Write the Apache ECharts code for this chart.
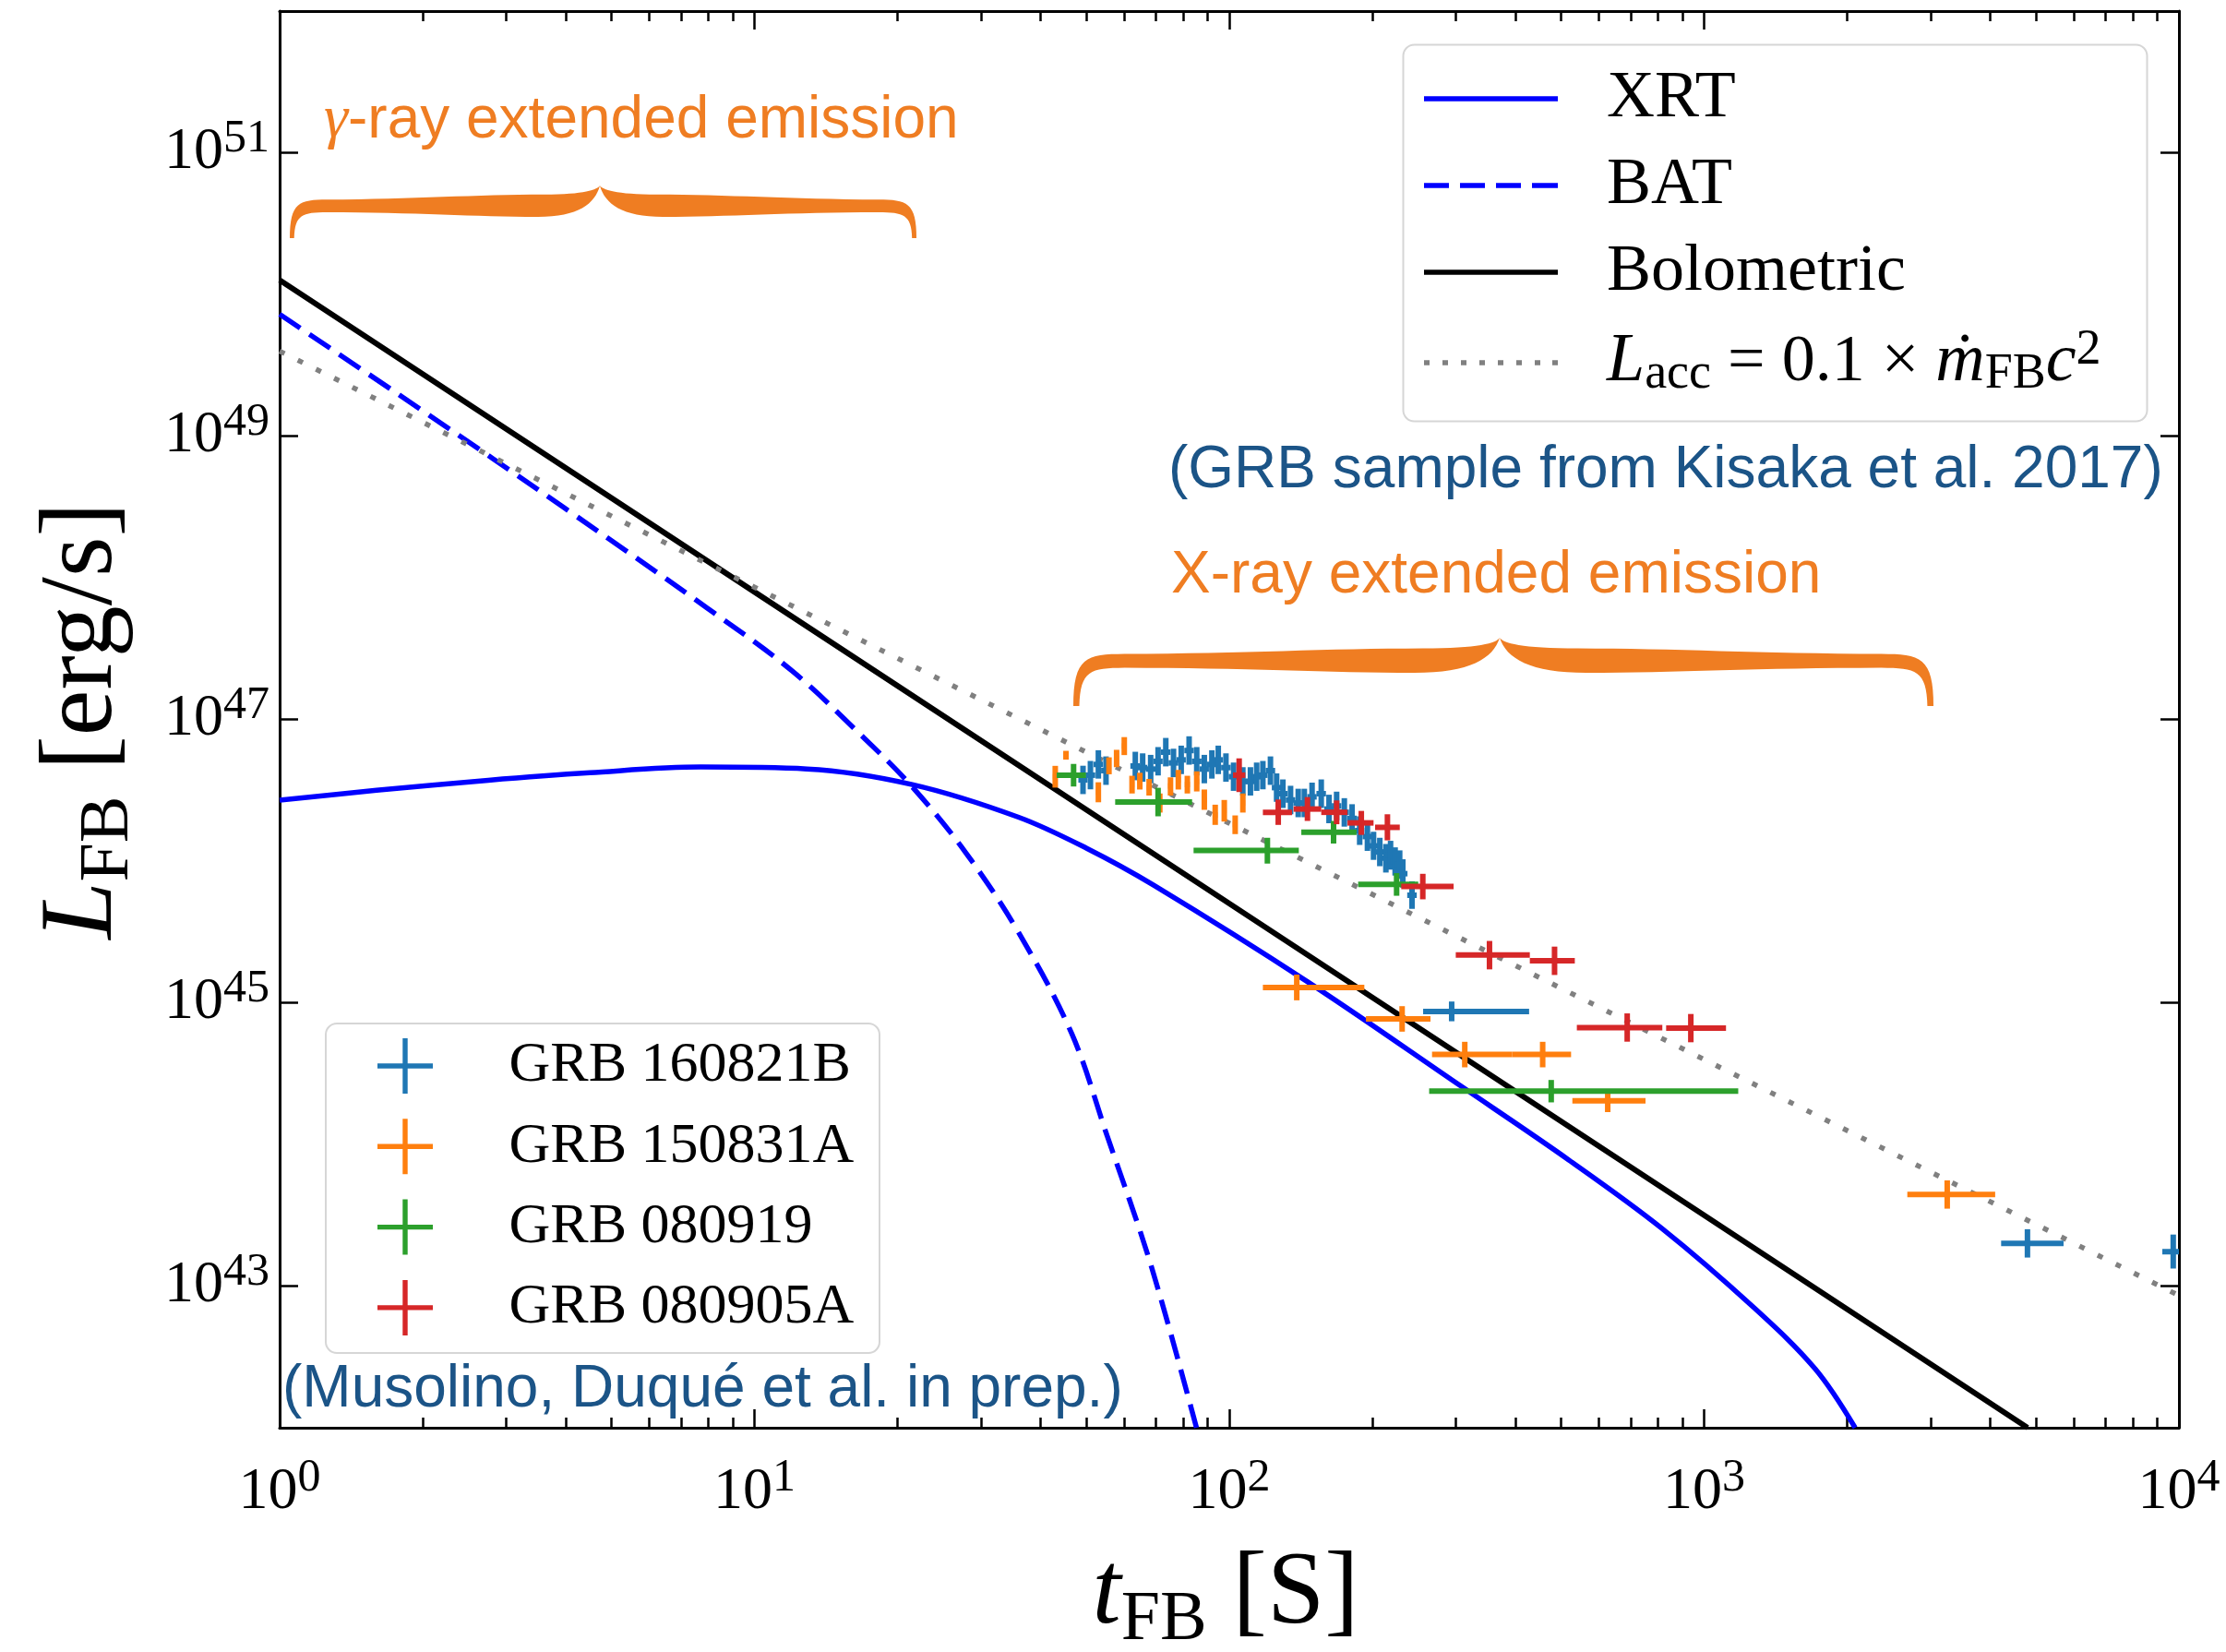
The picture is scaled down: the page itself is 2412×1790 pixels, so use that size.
<!DOCTYPE html>
<html>
<head>
<meta charset="utf-8">
<script src="https://cdn.jsdelivr.net/npm/echarts@6/dist/echarts.min.js"></script>
<style>html,body{margin:0;padding:0;background:#fff}#c{width:2412px;height:1790px}</style>
</head>
<body>
<div id="c"></div>
<script>
// ---------------- DATA (t in s, L in erg/s) ----------------
const xMajorTicks = [1, 10, 100, 1000, 10000];
const xMinorTicks = [2,3,4,5,6,7,8,9,20,30,40,50,60,70,80,90,200,300,400,500,600,700,800,900,2000,3000,4000,5000,6000,7000,8000,9000];
const yMajorTicks = [1e43, 1e45, 1e47, 1e49, 1e51];

// model curves [t, L]
const xrtCurve = [[1,2.69e46],[1.6,3.16e46],[2.75,3.72e46],[4.5,4.20e46],[7.71,4.61e46],[12.9,4.47e46],[21.5,3.47e46],[36.0,2.04e46],[50.1,1.23e46],[69.3,6.76e45],[146,1.41e45],[308,2.57e44],[519,7.76e43],[813,2.57e43],[1271,7.08e42],[1714,2.60e42],[2080,1.0e42]];
const batCurve = [[1,7.24e49],[2.0,1.51e49],[3.99,3.09e48],[7.92,6.17e47],[12.0,2.20e47],[17.0,7.41e46],[21.5,3.34e46],[27.9,1.14e46],[36.0,3.13e45],[46.6,6.03e44],[55.3,1.15e44],[68.2,1.45e43],[85.3,1.0e42]];
const bolCurve = [[1,1.26e50],[10,7.94e47],[100,5.01e45],[1000,3.16e43],[4800,1.0e42]];
const laccCurve = [[1,3.98e49],[10,8.58e47],[100,1.85e46],[1000,3.98e44],[10000,8.58e42]];

// error-bar data rows: [t, tLow, tHigh, L, LLow, LHigh]
const grb160821B = [
 [49.2,48.1,50.3,3.74e46,2.97e46,4.71e46],[51.0,49.8,52.2,4.04e46,3.21e46,5.09e46],[53.0,51.8,54.2,4.81e46,3.82e46,6.06e46],
 [55.0,53.7,56.3,4.35e46,3.45e46,5.48e46],[63.4,61.9,64.9,4.69e46,3.72e46,5.91e46],[65.7,64.2,67.2,4.57e46,3.63e46,5.76e46],
 [68.3,66.7,69.9,4.46e46,3.54e46,5.62e46],[70.8,69.2,72.4,5.06e46,4.02e46,6.38e46],[73.5,71.8,75.2,5.87e46,4.66e46,7.40e46],
 [76.3,74.5,78.1,4.93e46,3.91e46,6.21e46],[79.2,77.4,81.0,5.18e46,4.11e46,6.53e46],[82.3,80.4,84.2,6.03e46,4.79e46,7.60e46],
 [85.4,83.4,87.4,5.06e46,4.02e46,6.38e46],[88.6,86.6,90.6,4.46e46,3.54e46,5.62e46],[91.9,89.8,94.0,4.81e46,3.82e46,6.06e46],
 [94.8,92.6,97.0,5.18e46,4.11e46,6.53e46],[98.4,96.1,100.7,4.57e46,3.63e46,5.76e46],[102.1,99.7,104.5,3.94e46,3.13e46,4.96e46],
 [106.8,104.3,109.3,3.65e46,2.90e46,4.60e46],[110.8,108.3,113.3,3.65e46,2.90e46,4.60e46],[114.2,111.6,116.8,3.94e46,3.13e46,4.96e46],
 [117.7,115.0,120.4,4.04e46,3.21e46,5.09e46],[122.1,119.3,124.9,4.35e46,3.45e46,5.48e46],[125.8,122.9,128.7,3.30e46,2.62e46,4.16e46],
 [129.7,126.7,132.7,2.99e46,2.37e46,3.77e46],[134.6,131.5,137.7,2.70e46,2.14e46,3.40e46],[139.7,136.5,142.9,2.57e46,2.04e46,3.24e46],
 [143.9,140.6,147.2,2.57e46,2.04e46,3.24e46],[149.4,146.0,152.8,2.84e46,2.25e46,3.58e46],[156.2,152.6,159.8,2.99e46,2.37e46,3.77e46],
 [162.2,158.5,165.9,2.33e46,1.85e46,2.94e46],[168.3,164.4,172.2,2.45e46,1.94e46,3.09e46],[174.7,170.7,178.7,2.21e46,1.75e46,2.78e46],
 [181.4,177.2,185.6,2.00e46,1.59e46,2.52e46],[188.2,183.9,192.5,1.64e46,1.30e46,2.07e46],[195.4,190.9,199.9,1.49e46,1.18e46,1.88e46],
 [201.3,196.7,205.9,1.28e46,1.02e46,1.61e46],[207.5,202.7,212.3,1.16e46,0.92e46,1.46e46],[213.7,208.8,218.6,1.05e46,0.83e46,1.32e46],
 [218.6,213.6,223.6,1.10e46,0.87e46,1.39e46],[223.5,218.4,228.6,9.95e45,7.9e45,1.25e46],[228.5,223.2,233.8,9.46e45,7.5e45,1.19e46],
 [232.0,226.7,237.3,8.15e45,6.5e45,1.03e46],[242.6,237.0,248.2,5.74e45,4.6e45,7.2e45],
 [294,256,428,8.67e44,7.4e44,1.02e45],[4797,4222,5715,2.0e43,1.59e43,2.52e43],[9727,9226,11220,1.75e43,1.33e43,2.31e43]
];
const grb150831A = [
 [45.3,44.8,45.8,5.58e46,5.2e46,6.0e46],[43.0,42.5,43.5,3.94e46,3.3e46,4.7e46],[53.0,52.4,53.6,3.06e46,2.6e46,3.6e46],
 [55.8,55.2,56.4,4.69e46,4.1e46,5.4e46],[57.9,57.3,58.5,5.31e46,4.6e46,6.1e46],[60.1,59.4,60.8,6.49e46,5.6e46,7.5e46],
 [62.4,61.7,63.1,3.47e46,3.0e46,4.0e46],[64.8,64.1,65.5,3.65e46,3.2e46,4.2e46],[67.8,67.0,68.6,3.30e46,2.9e46,3.8e46],
 [71.4,70.6,72.2,2.57e46,2.2e46,3.0e46],[75.2,74.3,76.1,3.39e46,2.9e46,3.9e46],[78.1,77.2,79.0,3.74e46,3.2e46,4.4e46],
 [81.6,80.6,82.6,3.47e46,3.0e46,4.0e46],[85.4,84.4,86.4,3.65e46,3.1e46,4.3e46],[88.6,87.6,89.6,2.70e46,2.3e46,3.2e46],
 [93.4,92.3,94.5,2.11e46,1.8e46,2.5e46],[97.6,96.5,98.7,2.27e46,1.9e46,2.7e46],[102.9,101.7,104.1,1.81e46,1.55e46,2.1e46],
 [106.8,105.6,108.0,2.57e46,2.2e46,3.0e46],
 [138.7,117.7,192.5,1.28e45,1.04e45,1.58e45],[231.2,194.0,265.3,7.69e44,6.25e44,9.46e44],[313.3,267.3,393.9,4.31e44,3.50e44,5.30e44],
 [457.1,393.9,524.6,4.31e44,3.50e44,5.30e44],[626.6,527.9,752.7,2.03e44,1.69e44,2.44e44],[3251,2679,4102,4.43e43,3.52e43,5.57e43]
];
const grb080919 = [
 [47.0,43.3,49.9,4.04e46,3.36e46,4.85e46],[70.8,57.5,83.5,2.61e46,2.07e46,3.29e46],[120.3,84.1,140.1,1.19e46,9.6e45,1.46e46],
 [165.8,141.8,185.4,1.60e46,1.33e46,1.92e46],[225.1,186.8,250.0,6.84e45,5.69e45,8.22e45],[476.4,263.6,1180,2.38e44,1.98e44,2.85e44]
];
const grb080905A = [
 [104.9,101.8,108.1,4.04e46,3.07e46,5.31e46],[126.8,117.7,135.6,2.21e46,1.80e46,2.72e46],[146.1,136.6,156.2,2.33e46,1.92e46,2.83e46],
 [168.3,156.2,177.4,2.21e46,1.82e46,2.68e46],[189.7,177.4,201.3,1.86e46,1.53e46,2.26e46],[215.3,202.8,228.6,1.73e46,1.40e46,2.14e46],
 [255.6,230.2,296.8,6.61e45,5.37e45,8.13e45],[353.2,299.9,429.5,2.17e45,1.72e45,2.73e45],[484.2,429.5,534.2,1.98e45,1.57e45,2.49e45],
 [688.7,539.5,816.6,6.68e44,5.31e44,8.41e44],[937.6,831.8,1112,6.62e44,5.26e44,8.33e44]
];

// ---------------- CHART ----------------
const SERIF = 'Liberation Serif';
const SANS = 'Liberation Sans';
const ORANGE = '#ef7d22';
const NAVY = '#1b5487';
const C_BLUE = '#1f77b4', C_ORANGE = '#ff7f0e', C_GREEN = '#2ca02c', C_RED = '#d62728';

const chart = echarts.init(document.getElementById('c'), null, {renderer: 'canvas', width: 2412, height: 1790});

const supFmt = v => '{b|10}{s|' + Math.round(Math.log10(v)) + '}';
const tickRich = {
  b: {fontFamily: SERIF, fontSize: 64, lineHeight: 80, color: '#000'},
  s: {fontFamily: SERIF, fontSize: 50, lineHeight: 40, verticalAlign: 'top', color: '#000'}
};
const axisLineStyle = {color: '#000', width: 3};
const tickStyle = {color: '#000', width: 2.5};

function mkX(pos, ticks, len, line, labels) {
  return {
    type: 'log', logBase: 10, min: 1, max: 10000, position: pos, gridIndex: 0,
    axisLine: {show: line, onZero: false, lineStyle: axisLineStyle},
    axisTick: {show: true, inside: true, length: len, lineStyle: tickStyle, customValues: ticks},
    axisLabel: labels ? {show: true, customValues: ticks, margin: 30, formatter: supFmt, rich: tickRich} : {show: false},
    splitLine: {show: false}, minorTick: {show: false}, minorSplitLine: {show: false}
  };
}
function mkY(pos, labels) {
  return {
    type: 'log', logBase: 10, min: 1e42, max: 1e52, position: pos, gridIndex: 0,
    axisLine: {show: true, onZero: false, lineStyle: axisLineStyle},
    axisTick: {show: true, inside: true, length: 20, lineStyle: tickStyle, customValues: yMajorTicks},
    axisLabel: labels ? {show: true, customValues: yMajorTicks, margin: 11, formatter: supFmt, rich: tickRich} : {show: false},
    splitLine: {show: false}, minorTick: {show: false}, minorSplitLine: {show: false}
  };
}

function renderErr(params, api) {
  const t = api.value(0), t0 = api.value(1), t1 = api.value(2);
  const L = api.value(3), L0 = api.value(4), L1 = api.value(5);
  const a = api.coord([t0, L]), b = api.coord([t1, L]);
  const c = api.coord([t, L0]), d = api.coord([t, L1]);
  const col = api.visual('color');
  return {type: 'group', children: [
    {type: 'line', shape: {x1: a[0], y1: a[1], x2: b[0], y2: b[1]}, style: {stroke: col, lineWidth: 6}},
    {type: 'line', shape: {x1: c[0], y1: c[1], x2: d[0], y2: d[1]}, style: {stroke: col, lineWidth: 6}}
  ]};
}
function errSeries(name, color, data) {
  return {name, type: 'custom', xAxisIndex: 0, yAxisIndex: 0, renderItem: renderErr, data,
    encode: {x: [0, 1, 2], y: [3, 4, 5]}, itemStyle: {color}, clip: true, silent: true, z: 3};
}
function lineSeries(name, color, width, type, data, smooth) {
  return {name, type: 'line', xAxisIndex: 0, yAxisIndex: 0, data, symbol: 'none', showSymbol: false,
    smooth: smooth ? 0.35 : false, clip: true, silent: true, z: 2,
    itemStyle: {color}, lineStyle: {color, width, type, cap: 'butt'}};
}

const plusIcon = 'path://M45.5,0 L54.5,0 L54.5,45.5 L100,45.5 L100,54.5 L54.5,54.5 L54.5,100 L45.5,100 L45.5,54.5 L0,54.5 L0,45.5 L45.5,45.5 Z';
const dashIcon = 'path://M0,0h27v5.5h-27z M39,0h27v5.5h-27z M78,0h27v5.5h-27z M117,0h28v5.5h-28z';
const dotIcon = 'path://M0,0h6v5.5h-6z M20,0h6v5.5h-6z M40,0h6v5.5h-6z M60,0h6v5.5h-6z M80,0h6v5.5h-6z M100,0h6v5.5h-6z M120,0h6v5.5h-6z M139,0h6v5.5h-6z';
const solidIcon = 'path://M0,0h145v5.5h-145z';

// curly brace outline sampled into a polygon (pixel layout of the annotation)
function cubic(p0, p1, p2, p3, n, out) {
  for (let k = 1; k <= n; k++) {
    const u = k / n, v = 1 - u;
    out.push([v*v*v*p0[0] + 3*v*v*u*p1[0] + 3*v*u*u*p2[0] + u*u*u*p3[0],
              v*v*v*p0[1] + 3*v*v*u*p1[1] + 3*v*u*u*p2[1] + u*u*u*p3[1]]);
  }
}
function halfBrace(xe, xm, yTop, yB, yBot, th) {
  const s = xm > xe ? 1 : -1, H = Math.abs(xm - xe);
  const p = u => xe + s * u * H;
  const pts = [[p(0), yBot]];
  cubic([p(0), yBot], [p(0), yB - th * 0.4], [p(0.03), yB - th * 0.7], [p(0.12), yB - th * 0.7], 16, pts);
  cubic([p(0.12), yB - th * 0.7], [p(0.4), yB - th * 0.75], [p(0.6), yB - th * 1.2], [p(0.82), yB - th * 1.2], 16, pts);
  cubic([p(0.82), yB - th * 1.2], [p(0.95), yB - th * 1.2], [p(0.993), yB - th * 1.7], [p(1), yTop], 16, pts);
  cubic([p(1), yTop], [p(0.985), yB - th * 0.3], [p(0.93), yB + th * 1.0], [p(0.8), yB + th * 1.0], 16, pts);
  cubic([p(0.8), yB + th * 1.0], [p(0.6), yB + th * 1.0], [p(0.4), yB + th * 0.55], [p(0.12), yB + th * 0.55], 16, pts);
  cubic([p(0.12), yB + th * 0.55], [p(0.04), yB + th * 0.55], [p(0.016), yB + th * 0.8], [p(0.014), yBot], 16, pts);
  return pts;
}
function braceElems(x0, x1, xm, yTop, yB, yBot, th) {
  return [halfBrace(x0, xm, yTop, yB, yBot, th), halfBrace(x1, xm, yTop, yB, yBot, th)].map(pts => ({
    type: 'polygon', z: 4, shape: {points: pts}, style: {fill: ORANGE}
  }));
}

const titleRich = {
  i: {fontFamily: SERIF, fontStyle: 'italic', fontSize: 112, lineHeight: 130, fill: '#000'},
  sub: {fontFamily: SERIF, fontSize: 76, lineHeight: 84, verticalAlign: 'bottom', fill: '#000'},
  n: {fontFamily: SERIF, fontSize: 112, lineHeight: 130, fill: '#000'}
};
const annRich = (color) => ({
  g: {fontFamily: SERIF, fontStyle: 'italic', fontSize: 66, fill: color},
  t: {fontFamily: SANS, fontSize: 64, fill: color}
});

const option = {
  animation: false,
  backgroundColor: '#fff',
  textStyle: {fontFamily: SERIF},
  grid: {left: 303, right: 51, top: 12, bottom: 243, containLabel: false, outerBoundsMode: 'none', show: false},
  xAxis: [mkX('bottom', xMajorTicks, 20, true, true), mkX('bottom', xMinorTicks, 11, false, false),
          mkX('top', xMajorTicks, 20, true, false), mkX('top', xMinorTicks, 11, false, false)],
  yAxis: [mkY('left', true), mkY('right', false)],
  legend: [
    {
      orient: 'vertical', left: 1543, top: 71, padding: 0, itemWidth: 145, itemHeight: 5.5, itemGap: 22,
      selectedMode: false, z: 6,
      data: [{name: 'XRT', icon: solidIcon}, {name: 'BAT', icon: dashIcon}, {name: 'Bolometric', icon: solidIcon}, {name: 'Lacc', icon: dotIcon}],
      formatter: name => name === 'Lacc'
        ? '{g| }{i|L}{sub|acc}{n| = 0.1 × }{i|ṁ}{sub|FB}{i|c}{sup|2}'
        : '{g| }{n|' + name + '}',
      textStyle: {color: '#000', rich: {
        g: {width: 48, fontSize: 10},
        n: {fontFamily: SERIF, fontSize: 72, lineHeight: 80, color: '#000'},
        i: {fontFamily: SERIF, fontStyle: 'italic', fontSize: 74, lineHeight: 80, color: '#000'},
        sub: {fontFamily: SERIF, fontSize: 54, lineHeight: 44, verticalAlign: 'bottom', color: '#000'},
        sup: {fontFamily: SERIF, fontSize: 54, lineHeight: 44, verticalAlign: 'top', color: '#000'}
      }}
    },
    {
      orient: 'vertical', left: 409, top: 1124, padding: 0, itemWidth: 61, itemHeight: 60, itemGap: 25.3,
      selectedMode: false, z: 6,
      data: [{name: 'GRB 160821B', icon: plusIcon}, {name: 'GRB 150831A', icon: plusIcon},
             {name: 'GRB 080919', icon: plusIcon}, {name: 'GRB 080905A', icon: plusIcon}],
      formatter: name => '{g| }{n|' + name + '}',
      textStyle: {color: '#000', rich: {
        g: {width: 77, fontSize: 10},
        n: {fontFamily: SERIF, fontSize: 62, lineHeight: 60, color: '#000'}
      }}
    }
  ],
  graphic: [
    {type: 'rect', z: 5, shape: {x: 1520.5, y: 48.5, width: 806, height: 408, r: 12},
     style: {fill: 'rgba(255,255,255,0.85)', stroke: '#d6d6d6', lineWidth: 2}},
    {type: 'rect', z: 5, shape: {x: 353, y: 1109, width: 600, height: 357, r: 12},
     style: {fill: 'rgba(255,255,255,0.85)', stroke: '#d6d6d6', lineWidth: 2}}
  ].concat(braceElems(314, 993, 650, 201, 224, 258, 11))
   .concat(braceElems(1163, 2095, 1625, 691, 717, 765, 12))
   .concat([
    {type: 'text', z: 4, x: 351, y: 131, style: {text: '{g|γ}{t|-ray extended emission}', rich: annRich(ORANGE), align: 'left', verticalAlign: 'middle'}},
    {type: 'text', z: 4, x: 1269, y: 624, style: {text: '{t|X-ray extended emission}', rich: annRich(ORANGE), align: 'left', verticalAlign: 'middle'}},
    {type: 'text', z: 4, x: 1266, y: 510, style: {text: '{t|(GRB sample from Kisaka et al. 2017)}', rich: annRich(NAVY), align: 'left', verticalAlign: 'middle'}},
    {type: 'text', z: 4, x: 306, y: 1506, style: {text: '{t|(Musolino, Duqué et al. in prep.)}', rich: annRich(NAVY), align: 'left', verticalAlign: 'middle'}},
    {type: 'text', z: 4, x: 1328, y: 1729, style: {text: '{i|t}{sub|FB}{n| [S]}', rich: titleRich, align: 'center', verticalAlign: 'middle'}},
    {type: 'text', z: 4, x: 91, y: 781, rotation: Math.PI / 2, style: {text: '{i|L}{sub|FB}{n| [erg/s]}', rich: titleRich, align: 'center', verticalAlign: 'middle'}}
  ]),
  series: [
    lineSeries('XRT', '#0000ff', 5.5, 'solid', xrtCurve, true),
    lineSeries('BAT', '#0000ff', 5.5, [27, 12], batCurve, true),
    lineSeries('Bolometric', '#000000', 6, 'solid', bolCurve, false),
    lineSeries('Lacc', '#808080', 5.5, [6, 16], laccCurve, false),
    errSeries('GRB 160821B', C_BLUE, grb160821B),
    errSeries('GRB 150831A', C_ORANGE, grb150831A),
    errSeries('GRB 080919', C_GREEN, grb080919),
    errSeries('GRB 080905A', C_RED, grb080905A)
  ]
};
chart.setOption(option);
</script>
</body>
</html>
